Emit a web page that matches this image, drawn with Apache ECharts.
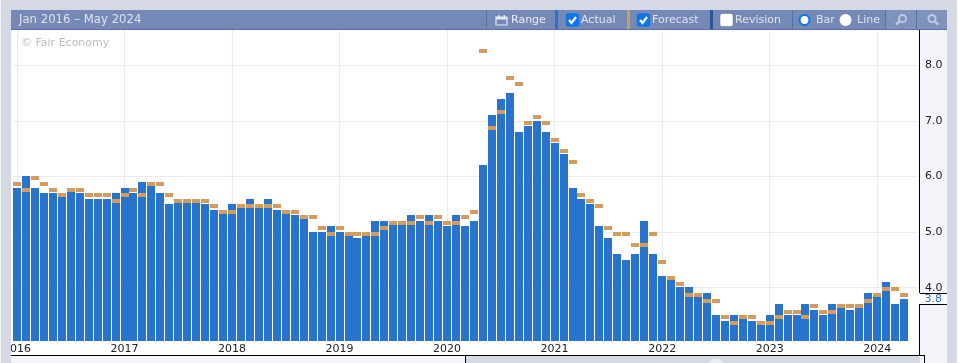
<!DOCTYPE html>
<html>
<head>
<meta charset="utf-8">
<style>html,body{margin:0;padding:0;background:#d5d9e3;overflow:hidden}#c{width:959px;height:363px}</style>
<script src="https://cdn.jsdelivr.net/npm/echarts@6/dist/echarts.min.js"></script>
</head>
<body>
<div id="c"></div>
<script>
const rangeLabel = 'Jan 2016 – May 2024';
const watermark = '© Fair Economy';
const startYear = 2016;
const monthCount = 101;
const yTicks = [4, 5, 6, 7, 8];
const latestValue = 3.8;
const actual = [
  5.8,6.0,5.8,5.7,5.7,5.7,5.8,5.7,5.6,5.6,5.6,5.7,
  5.8,5.7,5.9,5.9,5.7,5.5,5.6,5.6,5.6,5.5,5.4,5.4,
  5.5,5.5,5.6,5.5,5.6,5.4,5.4,5.3,5.3,5.0,5.0,5.1,
  5.0,5.0,4.9,5.0,5.2,5.2,5.2,5.2,5.3,5.2,5.3,5.2,
  5.1,5.3,5.1,5.2,6.2,7.1,7.4,7.5,6.8,6.9,7.0,6.8,
  6.6,6.4,5.8,5.6,5.5,5.1,4.9,4.6,4.5,4.6,5.2,4.6,
  4.2,4.2,4.0,4.0,3.9,3.9,3.5,3.4,3.5,3.5,3.4,3.4,
  3.5,3.7,3.5,3.5,3.7,3.6,3.5,3.7,3.7,3.6,3.7,3.9,
  3.9,4.1,3.7,3.8,null
];
const forecast = [
  5.9,5.8,6.0,5.9,5.8,5.7,5.8,5.8,5.7,5.7,5.7,5.6,
  5.7,5.8,5.7,5.9,5.9,5.7,5.6,5.6,5.6,5.6,5.5,5.4,
  5.4,5.5,5.5,5.5,5.5,5.5,5.4,5.4,5.3,5.3,5.1,5.0,
  5.1,5.0,5.0,5.0,5.0,5.1,5.2,5.2,5.2,5.3,5.2,5.3,
  5.2,5.2,5.3,5.4,8.3,6.9,7.2,7.8,7.7,7.0,7.1,7.0,
  6.7,6.5,6.3,5.7,5.6,5.5,5.1,5.0,5.0,4.8,4.8,5.0,
  4.5,4.2,4.1,3.9,3.9,3.8,3.8,3.5,3.4,3.5,3.5,3.4,
  3.4,3.5,3.6,3.6,3.5,3.7,3.6,3.6,3.7,3.7,3.7,3.8,
  3.9,4.0,4.0,3.9,null
];
const categories = [];
for (let i = 0; i < monthCount; i++) {
  categories.push((startYear + Math.floor(i / 12)) + '-' + String(i % 12 + 1).padStart(2, '0'));
}

const BLUE = '#2874cc', ORANGE = '#d49b5e', HEAD = '#7489b5', SEP = '#5b71a5', GRID = '#e9ebf3';
const FONT = '"DejaVu Sans", sans-serif', HTXT = '#dde3f0';

function rect(x, y, w, h, fill, z, extra) {
  return Object.assign({ type: 'rect', silent: true, z: z, shape: { x, y, width: w, height: h }, style: { fill } }, extra || {});
}
function txt(x, y, t, fill, size, z) {
  return { type: 'text', silent: true, z: z, x, y, style: { text: t, fill, font: (size || 11) + 'px ' + FONT, textVerticalAlign: 'middle', textBaseline: 'middle' } };
}
function check(x, y) {
  return { type: 'polyline', silent: true, z: 33, shape: { points: [[x + 3, y + 6.5], [x + 5.5, y + 9.5], [x + 10, y + 3.5]] }, style: { stroke: '#fff', lineWidth: 2.2, fill: null } };
}
function box(x, y, fill) {
  return { type: 'rect', silent: true, z: 32, shape: { x, y, width: 13, height: 13, r: 2 }, style: { fill, stroke: fill === '#fff' ? '#6a6f7c' : fill, lineWidth: 0.5 } };
}
function glass(cx, cy, plus) {
  const c = '#bcc8e0';
  return [
    { type: 'circle', silent: true, z: 33, shape: { cx, cy, r: 3.6 }, style: { fill: null, stroke: c, lineWidth: 2 } },
    { type: 'line', silent: true, z: 33, shape: { x1: plus ? cx - 3 : cx + 3, y1: cy + 3, x2: plus ? cx - 6.5 : cx + 6.5, y2: cy + 6 }, style: { stroke: c, lineWidth: 2.4 } }
  ];
}

// Marks are placed through the axes (api.coord) and snapped to whole pixels.
function barItem(params, api) {
  const v = api.value(1);
  if (v == null || isNaN(v)) return null;
  const top = api.coord([api.value(0), v]);
  const base = api.coord([api.value(0), 3.04]);
  const x = Math.round(top[0] - 4), y = Math.round(top[1] - 0.2);
  return { type: 'rect', shape: { x, y, width: 8, height: Math.round(base[1]) - y }, style: { fill: BLUE } };
}
function tickItem(params, api) {
  const v = api.value(1);
  if (v == null || isNaN(v)) return null;
  const p = api.coord([api.value(0), v]);
  return { type: 'rect', shape: { x: Math.round(p[0] - 4), y: Math.round(p[1] - 0.2), width: 8, height: 4 }, style: { fill: ORANGE } };
}

const chart = echarts.init(document.getElementById('c'), null, { renderer: 'canvas' });

chart.setOption({
  animation: false,
  backgroundColor: '#d5d9e3',
  grid: { left: 11.5, top: 30, width: 906, height: 311, containLabel: false },
  xAxis: {
    type: 'category',
    data: categories,
    boundaryGap: true,
    axisLine: { show: false },
    axisTick: { show: false },
    axisLabel: {
      interval: (i) => i % 12 === 0,
      formatter: (v) => v.slice(0, 4),
      color: '#222',
      fontFamily: 'DejaVu Sans',
      fontSize: 11,
      margin: 3,
      hideOverlap: false,
      showMinLabel: true
    },
    splitLine: {
      show: true,
      alignWithLabel: true,
      interval: (i) => i % 12 === 0,
      lineStyle: { color: GRID, width: 1 }
    }
  },
  yAxis: {
    type: 'value',
    position: 'right',
    offset: 1.5,
    min: 3.04,
    max: 8.64,
    axisLine: { show: true, onZero: false, lineStyle: { color: '#000', width: 1 } },
    axisTick: { show: false, customValues: yTicks },
    axisLabel: {
      customValues: yTicks,
      formatter: (v) => v.toFixed(1),
      color: '#222',
      fontFamily: 'DejaVu Sans',
      fontSize: 11,
      margin: 6,
      padding: [4, 0, 0, 0]
    },
    splitLine: { show: true, lineStyle: { color: GRID, width: 1 } }
  },
  series: [
    { name: 'Actual', type: 'custom', renderItem: barItem, data: actual.map((v, i) => [i, v]), encode: { x: 0, y: 1 }, z: 3, silent: true, clip: false },
    { name: 'Forecast', type: 'custom', renderItem: tickItem, data: forecast.map((v, i) => [i, v]), encode: { x: 0, y: 1 }, z: 4, silent: true, clip: false }
  ]
});

const yLatest = Math.round(chart.convertToPixel({ yAxisIndex: 0 }, latestValue));

const gfx = [
  rect(11, 30, 909, 325, '#ffffff', -1),
  rect(920, 30, 27, 333, '#f3f5fa', -1),
  rect(11, 355, 454, 8, '#f3f5fa', -1),
  rect(0, 0, 1, 363, '#f4f5f8', 30),
  rect(957, 0, 2, 363, '#ffffff', 30),
  rect(1, 340, 10, 23, '#d5d9e3', 30),
  rect(11, 355, 913, 1, '#000', 20),
  rect(465, 355, 1, 8, '#000', 20),
  rect(924, 355, 1, 8, '#000', 20),
  rect(919, 341, 1, 15, '#000', 20),
  { type: 'circle', silent: true, z: 5, shape: { cx: 716, cy: 369, r: 10 }, style: { fill: '#eceef3' } },
  { type: 'circle', silent: true, z: 5, shape: { cx: 726, cy: 371, r: 7 }, style: { fill: '#eceef3' } },
  rect(919, yLatest - 6, 28, 11, '#ffffff', 20),
  rect(920, yLatest - 6, 27, 1, '#000', 21),
  rect(920, yLatest + 5, 27, 1, '#000', 21),
  txt(924.5, yLatest + 0.5, latestValue.toFixed(1), BLUE, 11, 22),
  txt(21, 43.5, watermark, '#bdbdbd', 11, 6),
  rect(11, 10, 936, 19, HEAD, 30),
  rect(11, 29, 936, 1, SEP, 31),
  rect(885, 10, 62, 19, '#7e93bc', 31),
  txt(19, 20, rangeLabel, HTXT, 11.7, 32),
  rect(486, 10, 1, 19, SEP, 32),
  rect(792, 10, 1, 19, SEP, 32),
  rect(885, 10, 1, 19, SEP, 32),
  rect(916, 10, 1, 19, SEP, 32),
  rect(555, 10, 3, 19, BLUE, 32),
  rect(627, 10, 3, 19, ORANGE, 32),
  rect(710, 10, 3, 19, '#2f5597', 32),
  rect(496, 17, 11, 8, null, 33, { style: { fill: null, stroke: '#e4e9f4', lineWidth: 1.2 } }),
  rect(496, 17, 11, 2.5, '#e4e9f4', 33),
  rect(498, 15, 1.5, 3, '#e4e9f4', 33),
  rect(503.5, 15, 1.5, 3, '#e4e9f4', 33),
  txt(511, 20, 'Range', '#e9edf6', 11, 33),
  box(566, 13.5, '#0f76e8'), check(566, 13.5),
  txt(581, 20, 'Actual', HTXT, 11, 33),
  box(637, 13.5, '#0f76e8'), check(637, 13.5),
  txt(652, 20, 'Forecast', HTXT, 11, 33),
  box(720, 13.5, '#fff'),
  txt(735, 20, 'Revision', HTXT, 11, 33),
  { type: 'circle', silent: true, z: 33, shape: { cx: 804.5, cy: 20, r: 5 }, style: { fill: '#fff', stroke: '#0f76e8', lineWidth: 2.2 } },
  txt(816, 20, 'Bar', HTXT, 11, 33),
  { type: 'circle', silent: true, z: 33, shape: { cx: 845.5, cy: 20, r: 6 }, style: { fill: '#fff' } },
  txt(857, 20, 'Line', HTXT, 11, 33)
].concat(glass(902.5, 18.5, true), glass(932, 18.5, false));

chart.setOption({ graphic: { elements: gfx } });
</script>
</body>
</html>
